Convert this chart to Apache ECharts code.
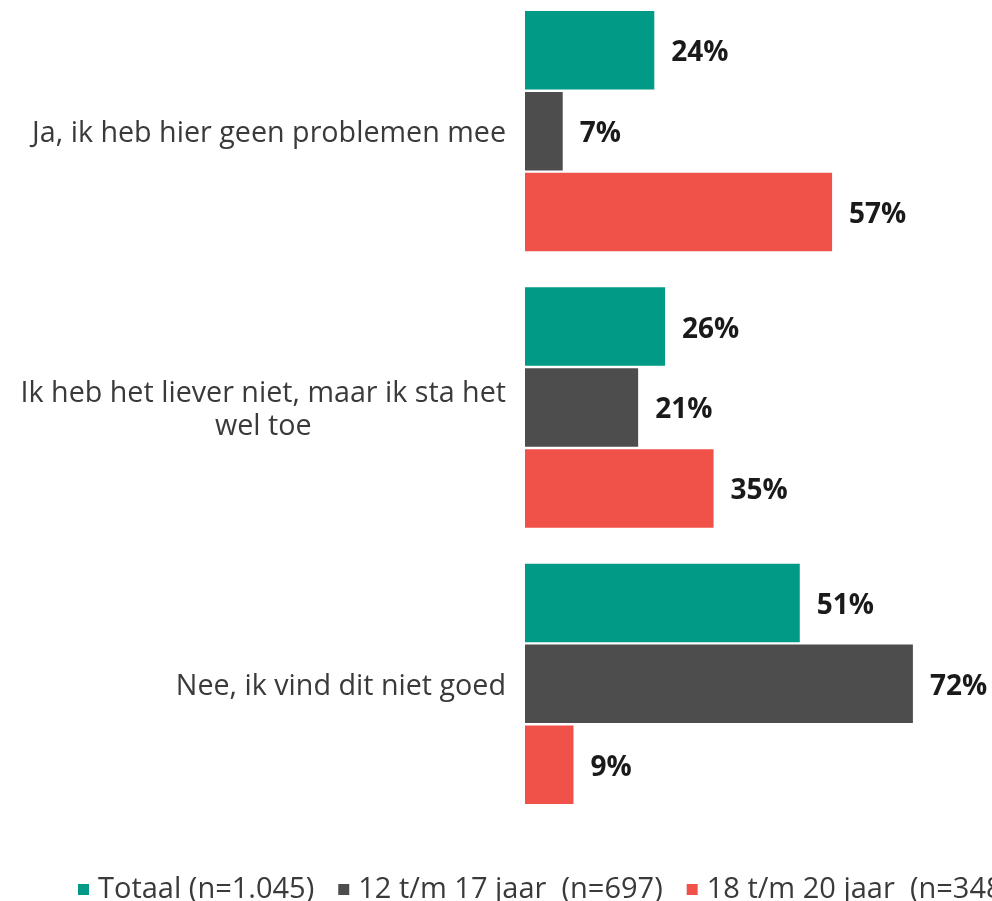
<!DOCTYPE html>
<html>
<head>
<meta charset="utf-8">
<script src="https://cdn.jsdelivr.net/npm/echarts@6/dist/echarts.min.js"></script>
<style>
  html, body { margin: 0; padding: 0; background: #fff; }
  #main { width: 992px; height: 901px; }
</style>
</head>
<body>
<div id="main"></div>
<script>
var categories = [
  'Ja, ik heb hier geen problemen mee',
  'Ik heb het liever niet, maar ik sta het\nwel toe',
  'Nee, ik vind dit niet goed'
]
var seriesNames = ['Totaal (n=1.045)', '12 t/m 17 jaar  (n=697)', '18 t/m 20 jaar  (n=348)']
var totaal = [24, 26, 51]
var jaar12to17 = [7, 21, 72]
var jaar18to20 = [57, 35, 9]
var colors = ['#009A87', '#4D4D4D', '#F0524A']

var font = 'Open Sans'

function barSeries (name, data, color) {
  return {
    name: name,
    type: 'bar',
    data: data,
    barGap: '3%',
    barCategoryGap: '13%',
    itemStyle: { color: color },
    label: {
      show: true,
      position: 'right',
      distance: 17,
      offset: [0, 3],
      formatter: '{c}%',
      color: '#1a1a1a',
      fontFamily: font,
      fontWeight: 'bold',
      fontSize: 28
    }
  }
}

var myChart = echarts.init(document.getElementById('main'))
myChart.setOption({
  animation: false,
  grid: { left: 525, right: 36, top: -7, height: 829, outerBoundsMode: 'none' },
  legend: {
    left: 78,
    top: 875,
    width: 1400,
    padding: 0,
    icon: 'rect',
    itemWidth: 11,
    itemHeight: 11,
    itemGap: 24,
    textStyle: { color: '#3a3a3a', fontFamily: font, fontSize: 29, padding: [0, 0, 0, 4] },
    data: seriesNames
  },
  xAxis: {
    type: 'value',
    min: 0,
    max: 80,
    show: false
  },
  yAxis: {
    type: 'category',
    inverse: true,
    data: categories,
    axisLine: { show: false },
    axisTick: { show: false },
    axisLabel: {
      margin: 19,
      color: '#3a3a3a',
      fontFamily: font,
      fontSize: 28.7,
      lineHeight: 33,
      formatter: function (v) {
        return v.split('\n').map(function (s) { return '{c|' + s + '}' }).join('\n')
      },
      rich: {
        c: { align: 'center', color: '#3a3a3a', fontFamily: font, fontSize: 28.7, lineHeight: 33, padding: [5, 0, 0, 0] }
      }
    }
  },
  series: [
    barSeries(seriesNames[0], totaal, colors[0]),
    barSeries(seriesNames[1], jaar12to17, colors[1]),
    barSeries(seriesNames[2], jaar18to20, colors[2])
  ]
})
</script>
</body>
</html>
